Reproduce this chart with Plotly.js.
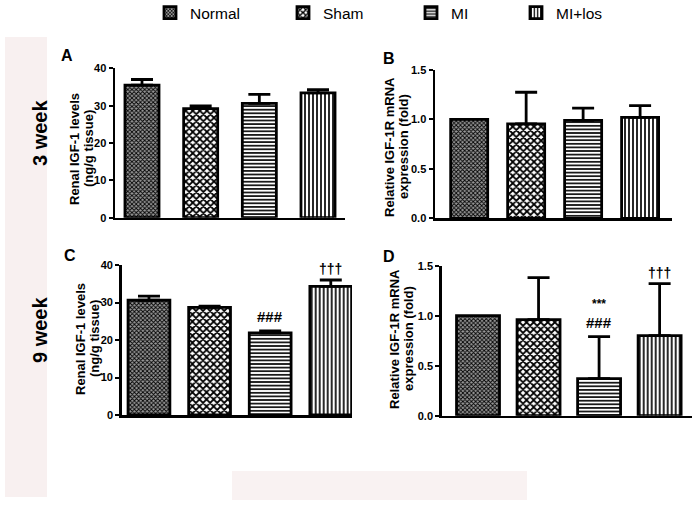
<!DOCTYPE html>
<html>
<head>
<meta charset="utf-8">
<script src="https://cdn.plot.ly/plotly-3.0.1.min.js"></script>
<style>html,body{margin:0;padding:0;background:#fff;}#chart{width:699px;height:510px;}</style>
</head>
<body>
<div id="chart"></div>
<script>
// ---- data ----
const categories = ['Normal', 'Sham', 'MI', 'MI+los'];
const panelA_vals = [35.5, 29.2, 30.6, 33.4];   // Renal IGF-1, 3 week
const panelA_err  = [1.5, 0.7, 2.4, 0.9];
const panelB_vals = [1.0, 0.955, 0.99, 1.02];   // IGF-1R mRNA, 3 week
const panelB_err  = [0, 0.32, 0.125, 0.12];
const panelC_vals = [30.6, 28.7, 21.9, 34.3];   // Renal IGF-1, 9 week
const panelC_err  = [1.1, 0.3, 0.5, 1.7];
const panelD_vals = [1.0, 0.96, 0.37, 0.80];    // IGF-1R mRNA, 9 week
const panelD_err  = [0, 0.42, 0.42, 0.52];
const panelC_marks = [[], [], ['###'], ['†††']];
const panelD_marks = [[], [], ['###', '***'], ['†††']];

// ---- styling ----
const W = 699, H = 510;
const FONT = 'Arial, "Liberation Sans", sans-serif';
const patterns = [
  {shape: 'x', size: 3, solidity: 0.5, fgcolor: '#000', bgcolor: '#999'},
  {shape: 'x', size: 5, solidity: 0.58, fgcolor: '#000', bgcolor: '#fff'},
  {shape: '-', size: 3.6, solidity: 0.45, fgcolor: '#000', bgcolor: '#fff'},
  {shape: '|', size: 4, solidity: 0.42, fgcolor: '#000', bgcolor: '#fff'}
];
const markStyle = {
  '###': {size: 15, shift: 4},
  '***': {size: 12, shift: 24},
  '†††': {size: 14, shift: 1}
};
const px2x = p => p / W;
const px2y = p => 1 - p / H;

const panels = [
  {vals: panelA_vals, err: panelA_err, xa: 'x', ya: 'y', xdom: [115, 345], ydom: [217.7, 68.3], xr: [-0.46, 3.46], yr: [0, 40], dtick: 10, fmt: 'd', bw: 0.58, marks: null},
  {vals: panelB_vals, err: panelB_err, xa: 'x2', ya: 'y2', xdom: [435, 672], ydom: [218.3, 70], xr: [-0.6, 3.56], yr: [0, 1.5], dtick: 0.5, fmt: '.1f', bw: 0.65, marks: null},
  {vals: panelC_vals, err: panelC_err, xa: 'x3', ya: 'y3', xdom: [121.7, 352], ydom: [415, 265], xr: [-0.45, 3.35], yr: [0, 40], dtick: 10, fmt: 'd', bw: 0.69, marks: panelC_marks},
  {vals: panelD_vals, err: panelD_err, xa: 'x4', ya: 'y4', xdom: [441.7, 691.7], ydom: [415.7, 265.7], xr: [-0.6, 3.53], yr: [0, 1.5], dtick: 0.5, fmt: '.1f', bw: 0.71, marks: panelD_marks}
];

const traces = [];
const layout = {
  width: W, height: H,
  margin: {l: 0, r: 0, t: 0, b: 0, autoexpand: false},
  paper_bgcolor: '#fff', plot_bgcolor: 'rgba(0,0,0,0)',
  barmode: 'overlay',
  font: {family: FONT, color: '#000'},
  annotations: [],
  shapes: [
    {type: 'rect', xref: 'paper', yref: 'paper', x0: px2x(5), x1: px2x(47), y0: px2y(497), y1: px2y(37), fillcolor: '#f8f0f0', line: {width: 0}, layer: 'below'},
    {type: 'rect', xref: 'paper', yref: 'paper', x0: px2x(232), x1: px2x(527), y0: px2y(500), y1: px2y(471), fillcolor: '#f9f2f2', line: {width: 0}, layer: 'below'}
  ]
};

const legendX = [158, 291, 419, 524];
categories.forEach((c, i) => {
  const key = i === 0 ? 'legend' : 'legend' + (i + 1);
  layout[key] = {x: px2x(legendX[i] - 8), y: px2y(13), xanchor: 'left', yanchor: 'middle',
    bgcolor: 'rgba(0,0,0,0)', font: {family: FONT, size: 15.5, color: '#000'}, itemwidth: 30};
});

panels.forEach((p, pi) => {
  const xk = p.xa === 'x' ? 'xaxis' : 'xaxis' + p.xa.slice(1);
  const yk = p.ya === 'y' ? 'yaxis' : 'yaxis' + p.ya.slice(1);
  layout[xk] = {domain: [px2x(p.xdom[0]), px2x(p.xdom[1])], anchor: p.ya, range: p.xr,
    type: 'category', categoryarray: categories, showticklabels: false, ticks: '', showgrid: false,
    zeroline: false, showline: true, linecolor: '#000', linewidth: 2.5, fixedrange: true};
  layout[yk] = {domain: [px2y(p.ydom[0]), px2y(p.ydom[1])], anchor: p.xa, range: p.yr,
    dtick: p.dtick, tick0: 0, tickformat: p.fmt, ticks: 'outside', ticklen: 4, tickwidth: 2, tickcolor: '#000',
    showgrid: false, zeroline: false, showline: true, linecolor: '#000', linewidth: 2.5, fixedrange: true,
    tickfont: {family: FONT, size: 11, weight: 'bold', color: '#000'}};
  categories.forEach((c, i) => {
    traces.push({
      type: 'bar', x: [c], y: [p.vals[i]], width: [p.bw], xaxis: p.xa, yaxis: p.ya,
      name: c, showlegend: pi === 0, legend: i === 0 ? 'legend' : 'legend' + (i + 1),
      marker: {color: '#fff', pattern: patterns[i], line: {color: '#000', width: 2.8}},
      error_y: {type: 'data', symmetric: false, array: [p.err[i]], arrayminus: [0], visible: p.err[i] > 0,
        color: '#000', thickness: 2.8, width: 11},
      hoverinfo: 'skip'
    });
    if (p.marks) {
      p.marks[i].forEach(m => {
        layout.annotations.push({xref: p.xa, yref: p.ya, x: c, y: p.vals[i] + p.err[i], yanchor: 'bottom',
          yshift: markStyle[m].shift, showarrow: false, text: m,
          font: {family: FONT, size: markStyle[m].size, weight: 'bold', color: '#000'}});
      });
    }
  });
});

// panel letters, axis titles (one annotation per line), week labels
const texts = [
  {t: 'A', x: 67, y: 55, s: 16, a: 0},
  {t: 'B', x: 389, y: 58, s: 16, a: 0},
  {t: 'C', x: 70, y: 255, s: 16, a: 0},
  {t: 'D', x: 389, y: 256, s: 16, a: 0},
  {t: 'Renal IGF-1 levels', x: 74, y: 149, s: 13, a: -90},
  {t: '(ng/g tissue)', x: 88, y: 149, s: 13, a: -90},
  {t: 'Relative IGF-1R mRNA', x: 389, y: 147, s: 13, a: -90},
  {t: 'expression (fold)', x: 403, y: 147, s: 13, a: -90},
  {t: 'Renal IGF-1 levels', x: 80, y: 339, s: 13, a: -90},
  {t: '(ng/g tissue)', x: 94, y: 339, s: 13, a: -90},
  {t: 'Relative IGF-1R mRNA', x: 394, y: 339, s: 13, a: -90},
  {t: 'expression (fold)', x: 408, y: 339, s: 13, a: -90},
  {t: '3 week', x: 40, y: 133, s: 20, a: -90},
  {t: '9 week', x: 40, y: 330, s: 20, a: -90}
];
texts.forEach(o => layout.annotations.push({xref: 'paper', yref: 'paper', x: px2x(o.x), y: px2y(o.y),
  xanchor: 'center', yanchor: 'middle', showarrow: false, text: o.t, textangle: o.a,
  font: {family: FONT, size: o.s, weight: 'bold', color: '#000'}}));

Plotly.newPlot('chart', traces, layout, {staticPlot: true, displayModeBar: false});
</script>
</body>
</html>
